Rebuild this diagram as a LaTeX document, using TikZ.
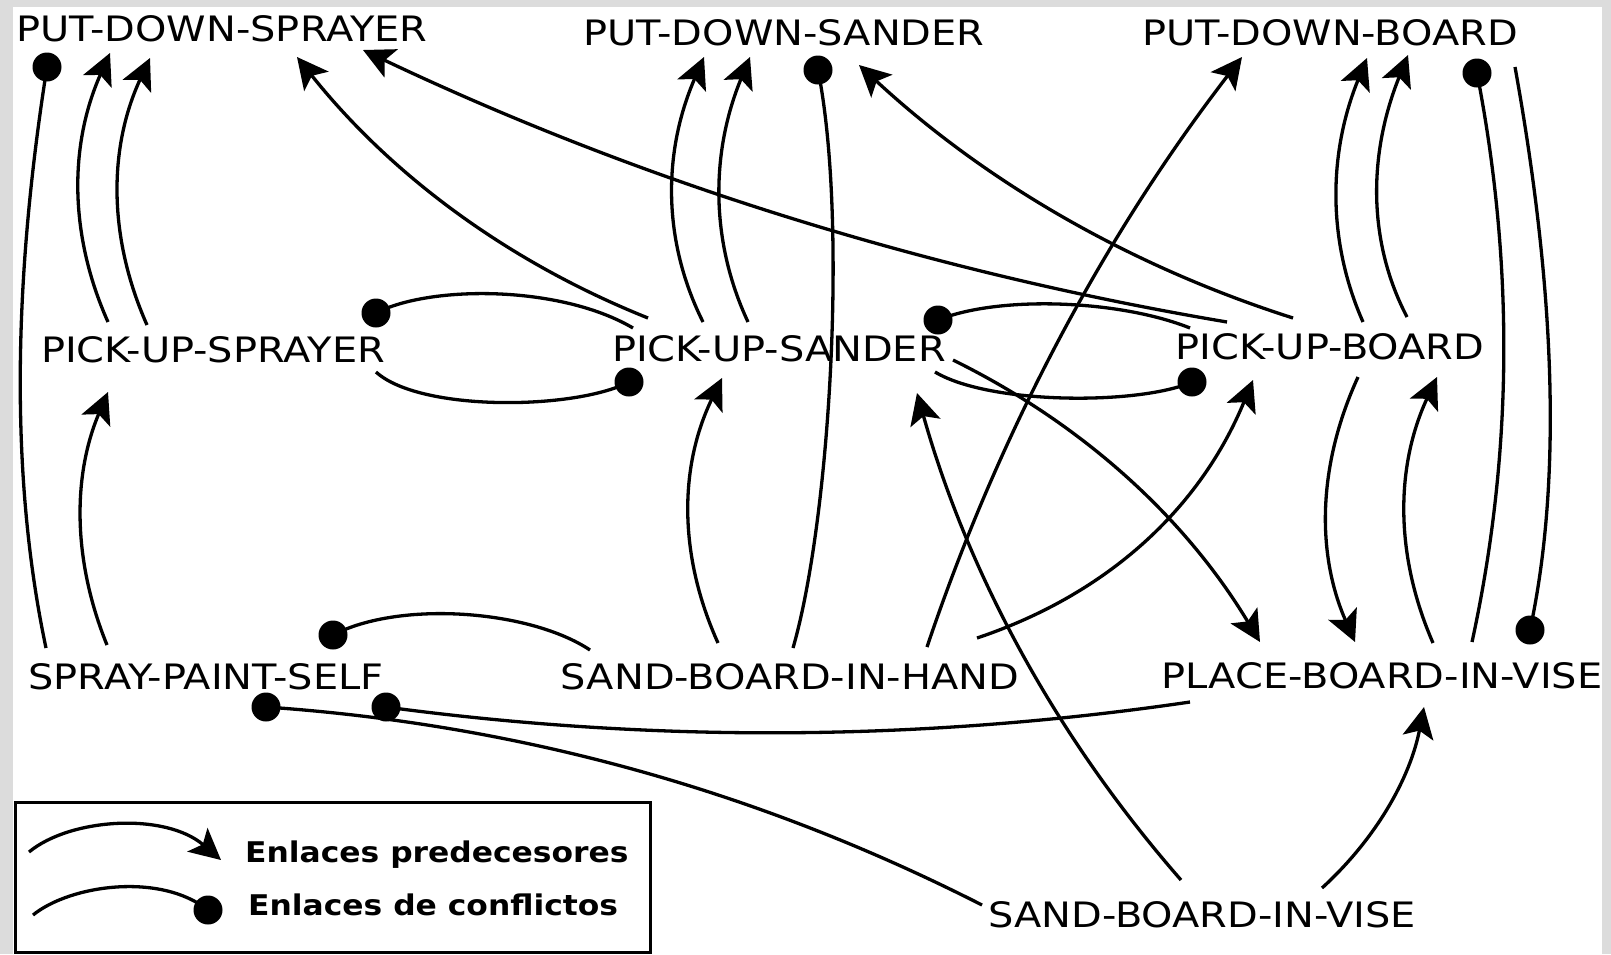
\documentclass[tikz,border=0pt]{standalone}
\usepackage{fontspec}
\newfontfamily\nodefont[FakeStretch=1.14]{DejaVu Sans}
\newfontfamily\legfont[FakeStretch=1.1]{DejaVu Sans Bold}
\usetikzlibrary{arrows.meta,calc}
\definecolor{bordergray}{RGB}{220,220,220}
% quadratic-like curve: #1 style, #2 start, #3 control point, #4 end
\newcommand\qedge[4]{\draw[#1] (#2) .. controls ($(#2)!0.6667!(#3)$) and ($(#4)!0.6667!(#3)$) .. (#4);}
\newcommand\confdot[1]{\fill (#1) circle (14.5pt);}
\begin{document}
\begin{tikzpicture}[x=1pt,y=-1pt,
  lbl/.style={inner sep=0pt, font=\nodefont\fontsize{35}{40}\selectfont, text height=25.5pt, text depth=0pt},
  pred/.style={line width=3.3pt, -{Stealth[length=31pt,width=31pt,inset=7pt]}},
  confl/.style={line width=3.3pt},
  legtext/.style={inner sep=0pt, anchor=base west, font=\legfont\fontsize{28.5}{32}\selectfont}
]
\useasboundingbox (0,0) rectangle (1611,954);
\fill[bordergray] (0,0) rectangle (1611,954);
\fill[white] (13,7) rectangle (1602,954);

% nodes
\node[lbl] (pds)  at (222,29)  {PUT-DOWN-SPRAYER};
\node[lbl] (pdsa) at (784,33)  {PUT-DOWN-SANDER};
\node[lbl] (pdb)  at (1330,33) {PUT-DOWN-BOARD};
\node[lbl] (pus)  at (213,350) {PICK-UP-SPRAYER};
\node[lbl] (pusa) at (779,349) {PICK-UP-SANDER};
\node[lbl] (pub)  at (1330,347) {PICK-UP-BOARD};
\node[lbl] (sps)  at (206,677) {SPRAY-PAINT-SELF};
\node[lbl] (sbh)  at (790,677) {SAND-BOARD-IN-HAND};
\node[lbl] (pbv)  at (1382,676) {PLACE-BOARD-IN-VISE};
\node[lbl] (sbv)  at (1202,915) {SAND-BOARD-IN-VISE};

% connector end points, attached to the nodes
\coordinate (s1a) at ($(pus.center)+(-105,-28)$);  \coordinate (e1a) at ($(pds.center)+(-112,24)$);
\coordinate (s1b) at ($(pus.center)+(-66,-25)$);   \coordinate (e1b) at ($(pds.center)+(-72,29)$);
\coordinate (s2)  at ($(sps.center)+(-99,-32)$);   \coordinate (e2)  at ($(pus.center)+(-105,42)$);
\coordinate (s3)  at ($(sps.center)+(-160,-29)$);  \coordinate (e3)  at ($(pds.center)+(-175,38)$);
\coordinate (s4)  at ($(pusa.center)+(-131,-31)$); \coordinate (e4)  at ($(pds.center)+(75,28)$);
\coordinate (s5)  at ($(sbh.center)+(-72,-34)$);   \coordinate (e5)  at ($(pusa.center)+(-57,29)$);
\coordinate (s6)  at ($(sbh.center)+(3,-29)$);     \coordinate (e6)  at ($(pdsa.center)+(34,37)$);
\coordinate (s7a) at ($(pusa.center)+(-76,-27)$);  \coordinate (e7a) at ($(pdsa.center)+(-80,24)$);
\coordinate (s7b) at ($(pusa.center)+(-31,-27)$);  \coordinate (e7b) at ($(pdsa.center)+(-34,24)$);
\coordinate (s8)  at ($(pub.center)+(-37,-29)$);   \coordinate (e8)  at ($(pdsa.center)+(75,32)$);
\coordinate (s9)  at ($(pub.center)+(-103,-25)$);  \coordinate (e9)  at ($(pds.center)+(141,21)$);
\coordinate (s10) at ($(pub.center)+(-140,-19)$);  \coordinate (e10) at ($(pusa.center)+(159,-29)$);
\coordinate (s11) at ($(pusa.center)+(156,23)$);   \coordinate (e11) at ($(pub.center)+(-138,35)$);
\coordinate (s12) at ($(pusa.center)+(174,11)$);   \coordinate (e12) at ($(pbv.center)+(-122,-34)$);
\coordinate (s13) at ($(sbh.center)+(187,-39)$);   \coordinate (e13) at ($(pub.center)+(-77,33)$);
\coordinate (s14) at ($(sbh.center)+(137,-30)$);   \coordinate (e14) at ($(pdb.center)+(-88,24)$);
\coordinate (s15) at ($(sbv.center)+(-21,-35)$);   \coordinate (e15) at ($(pusa.center)+(138,44)$);
\coordinate (s16) at ($(sbv.center)+(120,-27)$);   \coordinate (e16) at ($(pbv.center)+(42,31)$);
\coordinate (s17) at ($(pbv.center)+(-192,26)$);   \coordinate (e17) at ($(sps.center)+(180,30)$);
\coordinate (s18) at ($(sbv.center)+(-220,-10)$);  \coordinate (e18) at ($(sps.center)+(60,30)$);
\coordinate (s19) at ($(sbh.center)+(-200,-27)$);  \coordinate (e19) at ($(sps.center)+(127,-42)$);
\coordinate (s20a) at ($(pub.center)+(33,-25)$);   \coordinate (e20a) at ($(pdb.center)+(37,25)$);
\coordinate (s20b) at ($(pub.center)+(77,-30)$);   \coordinate (e20b) at ($(pdb.center)+(78,22)$);
\coordinate (s21) at ($(pbv.center)+(90,-34)$);    \coordinate (e21) at ($(pdb.center)+(147,40)$);
\coordinate (s22) at ($(pdb.center)+(185,34)$);    \coordinate (e22) at ($(pbv.center)+(148,-46)$);
\coordinate (s23) at ($(pub.center)+(28,30)$);     \coordinate (e23) at ($(pbv.center)+(-27,-34)$);
\coordinate (s24) at ($(pbv.center)+(51,-33)$);    \coordinate (e24) at ($(pub.center)+(107,30)$);
\coordinate (sA) at ($(pusa.center)+(-146,-21)$);  \coordinate (eA) at ($(pus.center)+(163,-37)$);
\coordinate (sB) at ($(pus.center)+(163,22)$);     \coordinate (eB) at ($(pusa.center)+(-150,33)$);

% left column
\qedge{pred}{s1a}{49,190}{e1a}
\qedge{pred}{s1b}{88,192}{e1b}
\qedge{pred}{s2}{55,517}{e2}
\qedge{confl}{s3}{-6,402}{e3} \confdot{e3}

% pick-up-sander links
\qedge{pred}{s4}{438,234}{e4}
\draw[confl] (sA) .. controls (560,285) and (430,285) .. (eA); \confdot{eA}
\draw[confl] (sB) .. controls (420,412) and (575,410) .. (eB); \confdot{eB}
\qedge{pred}{s5}{658,510}{e5}
\draw[confl] (s6) .. controls (830,520) and (848,220) .. (e6); \confdot{e6}
\qedge{pred}{s7a}{642,200}{e7a}
\qedge{pred}{s7b}{691,200}{e7b}

% pick-up-board links
\qedge{pred}{s8}{1048,240}{e8}
\qedge{pred}{s9}{776,246}{e9}
\draw[confl] (s10) .. controls (1120,300) and (1000,295) .. (e10); \confdot{e10}
\draw[confl] (s11) .. controls (990,405) and (1140,405) .. (e11); \confdot{e11}
\qedge{pred}{s12}{1148,456}{e12}
\qedge{pred}{s13}{1174,572}{e13}
\qedge{pred}{s14}{1035,326}{e14}
\qedge{pred}{s15}{994,666}{e15}
\qedge{pred}{s16}{1403,814}{e16}

% bottom conflicts
\qedge{confl}{s17}{788,761}{e17} \confdot{e17}
\qedge{confl}{s18}{644,733}{e18} \confdot{e18}
\draw[confl] (s19) .. controls (530,610) and (400,600) .. (e19); \confdot{e19}

% right column
\qedge{pred}{s20a}{1309,200}{e20a}
\qedge{pred}{s20b}{1348,204}{e20b}
\qedge{confl}{s21}{1533,362}{e21} \confdot{e21}
\qedge{confl}{s22}{1577,411}{e22} \confdot{e22}
\qedge{pred}{s23}{1297,510}{e23}
\qedge{pred}{s24}{1375,510}{e24}

% legend
\draw[line width=3pt] (15,802) rectangle (650,952);
\node[legtext] (lp) at (245,862) {Enlaces predecesores};
\node[legtext] (lc) at (248,915) {Enlaces de conflictos};
\coordinate (la0) at (29,852);
\coordinate (la1) at (221,860);
\draw[pred] (la0) .. controls (70,818) and (165,812) .. (la1);
\coordinate (lc0) at (33,915);
\coordinate (lc1) at (208,910);
\draw[confl] (lc0) .. controls (70,885) and (160,872) .. (lc1); \confdot{lc1}
\end{tikzpicture}
\end{document}
